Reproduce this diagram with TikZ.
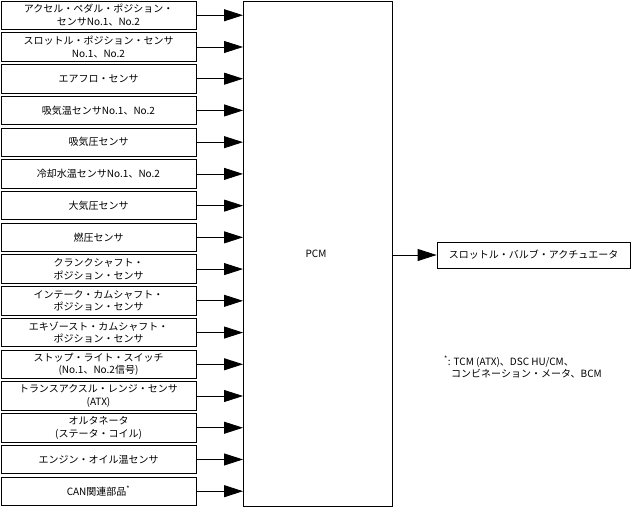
\documentclass[tikz,border=0pt]{standalone}
\usepackage{fontspec}
\setmainfont{Noto Sans CJK JP}
\usetikzlibrary{arrows.meta}
\begin{document}
\begin{tikzpicture}[x=1pt,y=-1pt,
  font=\fontsize{10}{12.5}\selectfont,
  box/.style={draw, line width=0.8pt, minimum width=195pt, minimum height=28.5pt, inner sep=0pt, align=center},
  arr/.style={-{Triangle[length=19pt,width=12pt]}, line width=0.8pt}]
\useasboundingbox (0,0) rectangle (634,508);
\node[draw, line width=0.8pt, minimum width=149pt, minimum height=505pt, anchor=north west, inner sep=0pt] (pcm) at (243,1) {};
\node (pcmlabel) at (316,254) {PCM};
\foreach \t [count=\i] in {
  {アクセル・ペダル・ポジション・\\センサNo.1、No.2},
  {スロットル・ポジション・センサ\\No.1、No.2},
  {エアフロ・センサ},
  {吸気温センサNo.1、No.2},
  {吸気圧センサ},
  {冷却水温センサNo.1、No.2},
  {大気圧センサ},
  {燃圧センサ},
  {クランクシャフト・\\ポジション・センサ},
  {インテーク・カムシャフト・\\ポジション・センサ},
  {エキゾースト・カムシャフト・\\ポジション・センサ},
  {ストップ・ライト・スイッチ\\(No.1、No.2信号)},
  {トランスアクスル・レンジ・センサ\\(ATX)},
  {オルタネータ\\(ステータ・コイル)},
  {エンジン・オイル温センサ},
  {CAN関連部品\textsuperscript{*}}}
{
  \node[box] (b\i) at (98.5, {1+(\i-1)*31.73+14.25}) {\t};
  \draw[arr] (b\i.east) -- (b\i.east -| pcm.west);
}
\node[box, minimum width=193pt, minimum height=26pt] (act) at (533.5,255) {スロットル・バルブ・アクチュエータ};
\draw[arr] (pcm.east |- act.west) -- (act.west);
\node[anchor=north west, align=left, inner sep=0pt] (note) at (444,356) {\textsuperscript{*}: TCM (ATX)、DSC HU/CM、\\\hspace*{7pt}コンビネーション・メータ、BCM};
\end{tikzpicture}
\end{document}
